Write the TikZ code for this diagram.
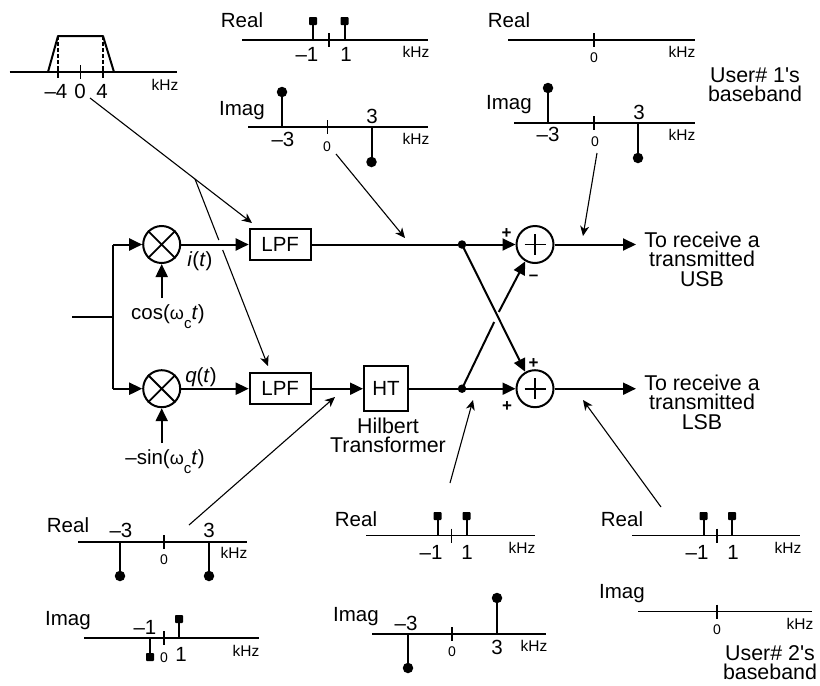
\documentclass[tikz,border=0pt]{standalone}
\usepackage{fontspec}
\setmainfont{Liberation Sans}
\newfontfamily\plainsans{Liberation Sans}
\usetikzlibrary{arrows.meta}
\newcommand\fsbig{\fontsize{20.5}{19.5}\selectfont}
\newcommand\fsmulti{\fontsize{21.4}{19.5}\selectfont}
\newcommand\fsmid{\fontsize{15.5}{15.5}\selectfont}
\newcommand\fssmall{\fontsize{14}{14}\selectfont}
\newcommand\omc{{\fontsize{18}{18}\selectfont ω}\raisebox{-.8ex}{\fontsize{15}{15}\selectfont c}}
\tikzset{
  sig/.style={line width=2pt},
  sigarrow/.style={line width=2pt,-{Triangle[length=13pt,width=12pt]}},
  note/.style={line width=1.1pt},
  notearrow/.style={line width=1.1pt,-{Stealth[length=10pt,width=9pt,inset=3pt]}},
  axisline/.style={line width=1.3pt},
  tickmark/.style={line width=1.6pt},
  stemline/.style={line width=2pt},
  lab/.style={font=\fsbig,inner sep=0pt,text height=14.8pt,text depth=0pt},
  mlab/.style={font=\fsmulti,inner sep=0pt,align=center},
  signlab/.style={font=\bfseries\fontsize{17}{17}\selectfont,inner sep=0pt,text height=12pt,text depth=0pt},
  labmid/.style={font=\fsmid,inner sep=0pt,text height=11.2pt,text depth=0pt},
  labsmall/.style={font=\fssmall,inner sep=0pt,text height=10pt,text depth=0pt},
  blockbox/.style={draw,line width=2pt,minimum width=61pt,minimum height=31pt,inner sep=0pt,font=\fsbig},
  mixcircle/.style={draw,circle,line width=2pt,minimum size=37pt,inner sep=0pt},
  junct/.style={fill,circle,minimum size=8.5pt,inner sep=0pt},
  headround/.style={fill,circle,minimum size=10.5pt,inner sep=0pt},
  headsq/.style={fill,rectangle,rounded corners=.8pt,minimum size=8pt,inner sep=0pt},
}
% name, x0, x1, y, xtick
\newcommand\spaxis[5]{%
  \coordinate (#1L) at (#2,#4);
  \coordinate (#1R) at (#3,#4);
  \coordinate (#1Ta) at (#5,#4-7);
  \coordinate (#1Tb) at (#5,#4+7);
  \draw[axisline] (#1L) -- (#1R);
  \draw[tickmark] (#1Ta) -- (#1Tb);
}
% name, x, yaxis, ytip, style
\newcommand\spstem[5]{%
  \coordinate (#1b) at (#2,#3);
  \node[#5] (#1h) at (#2,#4) {};
  \draw[stemline] (#1b) -- (#1h.center);
}
\begin{document}
\begin{tikzpicture}[x=1pt,y=-1pt]
\useasboundingbox (0,0) rectangle (820,686);
% ---- block diagram
\coordinate (in) at (72,316.5);
\coordinate (sp) at (113,316.5);
\coordinate (up) at (113,244.5);
\coordinate (dn) at (113,388.7);
\node[mixcircle] (m1) at (161.7,244.5) {};
\node[mixcircle] (m2) at (161.7,388.7) {};
\draw[line width=1.8pt] (m1.45) -- (m1.225) (m1.135) -- (m1.-45);
\draw[line width=1.8pt] (m2.45) -- (m2.225) (m2.135) -- (m2.-45);
\node[blockbox] (lpf1) at (280.2,244.5) {LPF};
\node[blockbox] (lpf2) at (280.2,388.7) {LPF};
\node[blockbox,minimum width=44pt,minimum height=45pt] (ht) at (386,388.7) {HT};
\node[junct] (d1) at (462,244.5) {};
\node[junct] (d2) at (462,388.7) {};
\node[mixcircle] (s1) at (535,244.5) {};
\node[mixcircle] (s2) at (535,388.7) {};
\draw[line width=1.6pt] (524.5,244.5) -- (545.5,244.5) (535,234) -- (535,255);
\draw[line width=1.6pt] (524.5,388.7) -- (545.5,388.7) (535,378.2) -- (535,399.2);
\node[mlab] (o1) at (702,259) {To receive a\\transmitted\\USB};
\node[mlab] (o2) at (702,402) {To receive a\\transmitted\\LSB};
\coordinate (o1t) at (636,244.5);
\coordinate (o2t) at (636,388.7);
\draw[sig] (in) -- (sp);
\draw[sig] (up) -- (dn);
\draw[sigarrow] (up) -- (m1);
\draw[sigarrow] (dn) -- (m2);
\draw[sigarrow] (m1) -- (lpf1);
\draw[sigarrow] (m2) -- (lpf2);
\draw[sigarrow] (lpf2) -- (ht);
\draw[sig] (lpf1) -- (d1);
\draw[sig] (ht) -- (d2);
\draw[sigarrow] (d1) -- (s1);
\draw[sigarrow] (d2) -- (s2);
\draw[sigarrow] (s1) -- (o1t);
\draw[sigarrow] (s2) -- (o2t);
\draw[sigarrow] (d1.center) -- (s2.120);
\coordinate (xa) at (494.2,322);
\coordinate (xb) at (498.8,312);
\draw[sig] (d2.center) -- (xa);
\draw[sigarrow] (xb) -- (s1.240);
\node[lab] (cosl) at (168,312) {cos(\omc\textit{t})};
\node[lab] (sinl) at (165,457) {–sin(\omc\textit{t})};
\coordinate (cosb) at (161.7,298);
\coordinate (sinb) at (161.7,443);
\draw[sigarrow] (cosb) -- (m1);
\draw[sigarrow] (sinb) -- (m2);
\node[lab] (il) at (200,259) {\textit{i}(\textit{t})};
\node[lab] (ql) at (201,375) {\textit{q}(\textit{t})};
\node[mlab] (hil) at (388,435.5) {Hilbert\\Transformer};
\node[signlab] (p1) at (506.5,232) {+};
\node[signlab] (p2) at (533.5,362) {+};
\node[signlab] (p3) at (507,405) {+};
\node[signlab] (p4) at (533.5,274) {–};
% ---- filter spectrum
\spaxis{f}{9.5}{177}{72}{80.5}
\coordinate (fa) at (48,72);
\coordinate (fb) at (58,36);
\coordinate (fc) at (103,36);
\coordinate (fd) at (114,72);
\coordinate (fb2) at (58,66);
\coordinate (fc2) at (103,66);
\coordinate (fb3) at (58,78);
\coordinate (fc3) at (103,78);
\draw[line width=2pt,line join=round] (fa) -- (fb) -- (fc) -- (fd);
\draw[line width=1.3pt,dash pattern=on 4pt off 2pt] (fb) -- (fb2);
\draw[line width=1.3pt,dash pattern=on 4pt off 2pt] (fc) -- (fc2);
\draw[tickmark] (fb2) -- (fb3);
\draw[tickmark] (fc2) -- (fc3);
\node[lab] (fm4) at (56,91) {–4};
\node[lab] (f0) at (80,91) {0};
\node[lab] (f4) at (102,91) {4};
\node[labmid] (fk) at (165,85) {kHz};
% ---- top middle
\node[lab] (aR) at (242,20) {Real};
\spaxis{a}{242}{428}{40}{329}
\spstem{a1}{313}{40}{21}{headsq}
\spstem{a2}{344.5}{40}{21}{headsq}
\node[lab] (a1l) at (307,54) {–1};
\node[lab] (a2l) at (346,54) {1};
\node[labmid] (ak) at (416,52) {kHz};
\node[lab] (bR) at (242,108) {Imag};
\spaxis{b}{248}{428}{127}{327.5}
\spstem{b1}{282}{127}{92}{headround}
\spstem{b2}{371.5}{127}{162}{headround}
\node[lab] (b1l) at (283,139) {–3};
\node[lab] (b2l) at (372,116) {3};
\node[labsmall] (b0) at (327,146) {0};
\node[labmid] (bk) at (416,139) {kHz};
% ---- top right
\node[lab] (cR) at (509,20) {Real};
\spaxis{c}{508}{695}{40}{594}
\node[labsmall] (c0) at (594,57) {0};
\node[labmid] (ck) at (682,52) {kHz};
\node[lab] (dR) at (509,102) {Imag};
\spaxis{e}{514}{695}{123}{594}
\spstem{e1}{548}{123}{88}{headround}
\spstem{e2}{638}{123}{158}{headround}
\node[lab] (e1l) at (548,134) {–3};
\node[lab] (e2l) at (639,112) {3};
\node[labsmall] (e0) at (595,141) {0};
\node[labmid] (ek) at (682,135) {kHz};
\node[mlab] (u1) at (755,84.5) {User\# 1{\plainsans '}s\\baseband};
% ---- bottom left
\node[lab] (gR) at (68,525) {Real};
\spaxis{g}{78}{247}{542}{164}
\spstem{g1}{120}{542}{576}{headround}
\spstem{g2}{209}{542}{576}{headround}
\node[lab] (g1l) at (121,530) {–3};
\node[lab] (g2l) at (209,530) {3};
\node[labsmall] (g0) at (164,559) {0};
\node[labmid] (gk) at (234,553) {kHz};
\node[lab] (hR) at (68,618) {Imag};
\spaxis{h}{84}{259}{638}{164}
\spstem{h1}{150}{638}{657}{headsq}
\spstem{h2}{179}{638}{619}{headsq}
\node[lab] (h1l) at (145,627) {–1};
\node[lab] (h2l) at (181,654) {1};
\node[labsmall] (h0) at (164,657) {0};
\node[labmid] (hk) at (246,651) {kHz};
% ---- bottom middle
\node[lab] (iR) at (356,519) {Real};
\spaxis{j}{366}{535}{535.5}{451.5}
\spstem{j1}{437.5}{535.5}{516}{headsq}
\spstem{j2}{466.5}{535.5}{516}{headsq}
\node[lab] (j1l) at (431,552) {–1};
\node[lab] (j2l) at (467,552) {1};
\node[labmid] (jk) at (522,548) {kHz};
\node[lab] (kR) at (356,614) {Imag};
\spaxis{k}{372}{546}{634}{452}
\spstem{k1}{408}{634}{668}{headround}
\spstem{k2}{497}{634}{598}{headround}
\node[lab] (k1l) at (406,623) {–3};
\node[lab] (k2l) at (497,647) {3};
\node[labsmall] (k0) at (452,651) {0};
\node[labmid] (kk) at (534,646) {kHz};
% ---- bottom right
\node[lab] (lR) at (622,519) {Real};
\spaxis{l}{632}{800}{535.5}{717}
\spstem{l1}{703.5}{535.5}{516}{headsq}
\spstem{l2}{732}{535.5}{516}{headsq}
\node[lab] (l1l) at (697,552) {–1};
\node[lab] (l2l) at (733,552) {1};
\node[labmid] (lk) at (788,548) {kHz};
\node[lab] (nR) at (622,591) {Imag};
\spaxis{n}{638}{812}{611.5}{717}
\node[labsmall] (n0) at (717,629) {0};
\node[labmid] (nk) at (800,624) {kHz};
\node[mlab] (u2) at (770,662.5) {User\# 2{\plainsans '}s\\baseband};
% ---- annotation arrows
\coordinate (na) at (90,98);
\coordinate (nj) at (195,179);
\coordinate (nt1) at (252,223);
\coordinate (ng1) at (218.8,240);
\coordinate (ng2) at (222.7,250);
\coordinate (nt2) at (268,366);
\draw[notearrow] (na) -- (nt1);
\draw[note] (nj) -- (ng1);
\draw[notearrow] (ng2) -- (nt2);
\coordinate (nb1) at (336,154);
\coordinate (nb2) at (405,238);
\draw[notearrow] (nb1) -- (nb2);
\coordinate (nc1) at (597,153);
\coordinate (nc2) at (583,236);
\draw[notearrow] (nc1) -- (nc2);
\coordinate (nd1) at (189,525);
\coordinate (nd2) at (335,397);
\draw[notearrow] (nd1) -- (nd2);
\coordinate (ne1) at (450,483);
\coordinate (ne2) at (473,400);
\draw[notearrow] (ne1) -- (ne2);
\coordinate (nf1) at (661,507);
\coordinate (nf2) at (583,400);
\draw[notearrow] (nf1) -- (nf2);
\end{tikzpicture}
\end{document}
